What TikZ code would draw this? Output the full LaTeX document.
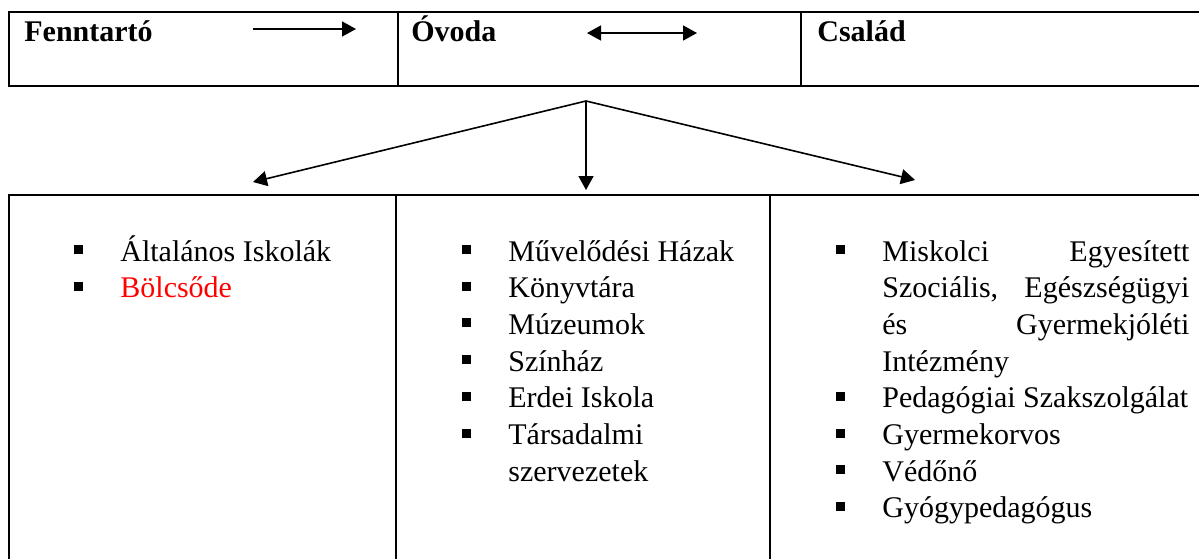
\documentclass[tikz,border=0pt]{standalone}
\usepackage{fontspec}
\setmainfont{Liberation Serif}
\usetikzlibrary{arrows.meta,positioning}
\definecolor{itemred}{RGB}{255,0,0}
\newcommand{\bitem}[1]{\noindent\hangindent=23pt\hangafter=1\makebox[23pt][l]{\raisebox{3.5pt}{\rule{4.5pt}{4.5pt}}}#1\par}

\begin{document}
\begin{tikzpicture}[
    x=0.5pt, y=-0.5pt,
    cell/.style={
        rectangle,
        draw=black,
        line width=1.25pt,
        inner sep=0pt,
        outer sep=0pt,
        anchor=north west
    },
    head/.style={font=\fontsize{15}{18}\selectfont\bfseries, inner sep=0pt, anchor=base west},
    list/.style={
        font={\fontsize{15}{18.35}\selectfont\hyphenpenalty=10000 \tolerance=9999 \emergencystretch=20pt},
        inner sep=0pt,
        anchor=base west,
        align=justify
    },
    arrow/.style={-{Triangle[length=7pt,width=7.5pt]}, line width=0.8pt},
    darrow/.style={{Triangle[length=7pt,width=7.5pt]}-{Triangle[length=7pt,width=7.5pt]}, line width=0.8pt}
]
    \useasboundingbox (0,0) rectangle (1199,558);
    \clip (0,0) rectangle (1199,558);

    % Top row
    \node[cell, minimum width=194.5pt, minimum height=37pt] (fcell) at (9,12) {};
    \node[cell, minimum width=201.5pt, minimum height=37pt] (ocell) at (398,12) {};
    \node[cell, minimum width=207pt, minimum height=37pt] (ccell) at (801,12) {};

    \node[head] (fenn) at ([xshift=7.5pt,yshift=-14.5pt]fcell.north west) {Fenntartó};
    \node[head] (ovoda) at ([xshift=6.5pt,yshift=-14.5pt]ocell.north west) {Óvoda};
    \node[head] (csalad) at ([xshift=8pt,yshift=-14.5pt]ccell.north west) {Család};

    \coordinate (fa1) at (253,29);
    \coordinate (fa2) at (356,29);
    \coordinate (oa1) at (587,33);
    \coordinate (oa2) at (697,33);
    \draw[arrow] (fa1) -- (fa2);
    \draw[darrow] (oa1) -- (oa2);

    % Fan of arrows
    \coordinate (fan) at (586,101);
    \coordinate (tipl) at (253,182);
    \coordinate (tipm) at (586,190);
    \coordinate (tipr) at (915,180);
    \draw[arrow] (fan) -- (tipl);
    \draw[arrow] (fan) -- (tipm);
    \draw[arrow] (fan) -- (tipr);

    % Bottom row
    \node[cell, minimum width=193.5pt, minimum height=190pt] (lcell) at (9,195) {};
    \node[cell, minimum width=187pt, minimum height=190pt] (mcell) at (396,195) {};
    \node[cell, minimum width=222.5pt, minimum height=190pt] (rcell) at (770,195) {};

    \node[list, text width=155pt] (schools) at ([xshift=32.5pt,yshift=-33pt]lcell.north west) {
        \bitem{Általános Iskolák}
        \bitem{\textcolor{itemred}{Bölcsőde}}
    };
    \node[list, text width=148pt] (culture) at ([xshift=33pt,yshift=-33pt]mcell.north west) {
        \bitem{Művelődési Házak}
        \bitem{Könyvtára}
        \bitem{Múzeumok}
        \bitem{Színház}
        \bitem{Erdei Iskola}
        \bitem{Társadalmi szervezetek}
    };
    \node[list, text width=176.5pt] (social) at ([xshift=33pt,yshift=-33pt]rcell.north west) {
        \bitem{Miskolci Egyesített Szociális, Egészségügyi és Gyermekjóléti Intézmény}
        \bitem{Pedagógiai Szakszolgálat}
        \bitem{Gyermekorvos}
        \bitem{Védőnő}
        \bitem{Gyógypedagógus}
    };
\end{tikzpicture}
\end{document}
